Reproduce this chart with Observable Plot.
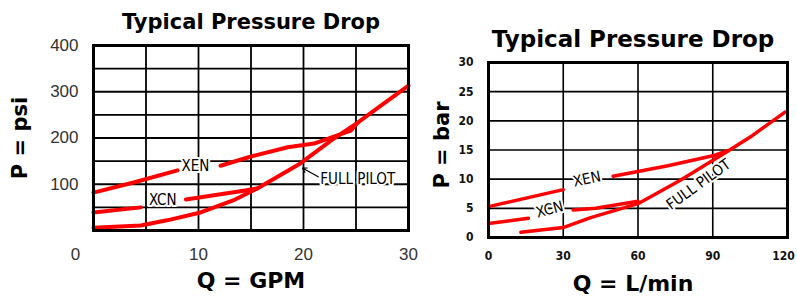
<!DOCTYPE html>
<html><head><meta charset="utf-8">
<script src="https://cdn.jsdelivr.net/npm/d3@7"></script>
<script src="https://cdn.jsdelivr.net/npm/@observablehq/plot@0.6"></script>
<style>
body{margin:0;background:#fff;}
#wrap{position:relative;width:797px;height:296px;overflow:hidden;background:#fff;}
#left{position:absolute;left:0;top:0;}
#right{position:absolute;left:420px;top:0;}
</style></head><body>
<div id="wrap"><div id="left"></div><div id="right"></div></div>
<script>
// ---------- Shared text ----------
const chartTitle = "Typical Pressure Drop";

// ---------- Left chart (US units) ----------
const gpmTicks = [10, 20, 30];
const gpmZeroTick = [0];
const gpmGrid = [5, 10, 15, 20, 25];
const psiTicks = [100, 200, 300, 400];
const psiGrid = [50, 100, 150, 200, 250, 300, 350];

const fullPilotGpm = [0, 4.5, 7, 10.2, 13.3, 15.6, 19.7, 22.9, 25.1, 27.5, 30];
const fullPilotPsi = [6, 11, 22, 39, 65, 91, 145, 199, 232, 272, 313];
const xenGpm = [0, 4, 8, NaN, 12.1, 15, 18.5, 21, 24.5, 25.1];
const xenPsi = [82, 105, 130, NaN, 140, 160, 180, 188, 216, 232];
const xcnGpm = [0, 4.5, NaN, 8.8, 14.3, 15.6];
const xcnPsi = [39, 50, NaN, 67, 86, 91];

const leftValveLabels = ["XEN", "XCN"];
const leftValveLabelGpm = [9.7, 6.6];
const leftValveLabelPsi = [140, 65];
const leftPilotLabel = ["FULL PILOT"];
const leftPilotLabelGpm = [21.6];
const leftPilotLabelPsi = [112];
const leftArrow = [{q1: 21.4, p1: 116, q2: 19.9, p2: 135}];

// ---------- Right chart (metric units) ----------
const lpmTicks = [0, 30, 60, 90];
const lpmLastTick = [120];
const lpmGrid = [30, 60, 90];
const barTicks = [0, 5, 10, 15, 20, 25, 30];
const barGrid = [5, 10, 15, 20, 25];

const fullPilotLpm = [13, 30, 41, 60, 77, 96, 106, 119];
const fullPilotBar = [0.9, 1.7, 3.4, 5.8, 9.8, 14.8, 17.5, 21.5];
const xenLpm = [0, 30, NaN, 50, 72, 90, 96];
const xenBar = [5.3, 8.2, NaN, 10.5, 12.3, 14.0, 14.9];
const xcnLpm = [0, 16, NaN, 34, 43, 60];
const xcnBar = [2.4, 3.3, NaN, 4.7, 5.0, 6.2];

const rightLabels = ["XEN", "XCN", "FULL PILOT"];
const rightLabelLpm = [39.5, 24.5, 84.3];
const rightLabelBar = [10.0, 4.8, 9.1];
const rightLabelRotate = [-12, -15, -36];

const RED = "#ff0000";
const boldFont = "DejaVu Sans, sans-serif";
const narrowFont = "'DejaVu Sans Condensed', 'Liberation Sans Narrow', sans-serif";

function series(xs, ys) { return xs.map((x, i) => ({x, y: ys[i]})); }
function labels(ts, xs, ys, rs) { return ts.map((t, i) => ({t, x: xs[i], y: ys[i], r: rs ? rs[i] : 0})); }

const labelStyle = {x: "x", y: "y", text: "t", fontFamily: narrowFont, fontSize: 15, fill: "black", stroke: "white", strokeWidth: 4};

// ---------- Left plot ----------
const left = Plot.plot({
  width: 420, height: 296,
  marginLeft: 93, marginRight: 12, marginTop: 45, marginBottom: 66,
  x: {domain: [0, 30], label: null},
  y: {domain: [0, 400], label: null},
  style: {fontFamily: "'Liberation Sans', Arial, sans-serif", fontSize: "17px", color: "#333", background: "#fff"},
  marks: [
    Plot.gridX(gpmGrid, {stroke: "black", strokeOpacity: 1, strokeWidth: 1.8}),
    Plot.gridY(psiGrid, {stroke: "black", strokeOpacity: 1, strokeWidth: 1.8}),
    Plot.axisY(psiTicks, {tickSize: 0, tickPadding: 15, label: null, fontSize: 17}),
    Plot.axisX(gpmTicks, {tickSize: 0, tickPadding: 17, label: null, fontSize: 17}),
    Plot.axisX(gpmZeroTick, {tickSize: 0, tickPadding: 17, label: null, fontSize: 17, dx: -18}),
    Plot.text(labels(leftValveLabels, leftValveLabelGpm, leftValveLabelPsi), {...labelStyle, textAnchor: "middle"}),
    Plot.text(labels(leftPilotLabel, leftPilotLabelGpm, leftPilotLabelPsi), {...labelStyle, textAnchor: "start"}),
    Plot.line(series(fullPilotGpm, fullPilotPsi), {x: "x", y: "y", stroke: RED, strokeWidth: 4}),
    Plot.line(series(xenGpm, xenPsi), {x: "x", y: "y", stroke: RED, strokeWidth: 4}),
    Plot.line(series(xcnGpm, xcnPsi), {x: "x", y: "y", stroke: RED, strokeWidth: 4}),
    Plot.arrow(leftArrow, {x1: "q1", y1: "p1", x2: "q2", y2: "p2", stroke: "black", strokeWidth: 1.2, headLength: 6}),
    Plot.frame({stroke: "black", strokeWidth: 3}),
    Plot.text([chartTitle], {frameAnchor: "top", lineAnchor: "middle", dy: -23, fontFamily: boldFont, fontWeight: "bold", fontSize: 21, fill: "black"}),
    Plot.text(["P = psi"], {frameAnchor: "left", textAnchor: "middle", lineAnchor: "middle", dx: -73, rotate: -90, fontFamily: boldFont, fontWeight: "bold", fontSize: 21, fill: "black"}),
    Plot.text(["Q = GPM"], {frameAnchor: "bottom", lineAnchor: "middle", dy: 50, fontFamily: boldFont, fontWeight: "bold", fontSize: 22, fill: "black"})
  ]
});
document.getElementById("left").append(left);

// ---------- Right plot ----------
const right = Plot.plot({
  width: 377, height: 296,
  marginLeft: 68, marginRight: 10, marginTop: 62, marginBottom: 59,
  x: {domain: [0, 120], label: null},
  y: {domain: [0, 30], label: null},
  style: {fontFamily: narrowFont, fontSize: "12px", fontWeight: "bold", color: "#111", background: "#fff"},
  marks: [
    Plot.gridX(lpmGrid, {stroke: "black", strokeOpacity: 1, strokeWidth: 1.6}),
    Plot.gridY(barGrid, {stroke: "black", strokeOpacity: 1, strokeWidth: 1.6}),
    Plot.axisY(barTicks, {tickSize: 0, tickPadding: 15, label: null, fontSize: 12}),
    Plot.axisX(lpmTicks, {tickSize: 0, tickPadding: 14, label: null, fontSize: 12}),
    Plot.axisX(lpmLastTick, {tickSize: 0, tickPadding: 14, label: null, fontSize: 12, dx: -4}),
    Plot.text(labels(rightLabels, rightLabelLpm, rightLabelBar, rightLabelRotate), {...labelStyle, rotate: "r", fontWeight: "normal"}),
    Plot.line(series(fullPilotLpm, fullPilotBar), {x: "x", y: "y", stroke: RED, strokeWidth: 3.5}),
    Plot.line(series(xenLpm, xenBar), {x: "x", y: "y", stroke: RED, strokeWidth: 3.5}),
    Plot.line(series(xcnLpm, xcnBar), {x: "x", y: "y", stroke: RED, strokeWidth: 3.5}),
    Plot.frame({stroke: "black", strokeWidth: 3}),
    Plot.text([chartTitle], {frameAnchor: "top", lineAnchor: "middle", dy: -23, dx: -5, fontFamily: boldFont, fontWeight: "bold", fontSize: 23, fill: "black"}),
    Plot.text(["P = bar"], {frameAnchor: "left", textAnchor: "middle", lineAnchor: "middle", dx: -46, dy: -5, rotate: -90, fontFamily: boldFont, fontWeight: "bold", fontSize: 21, fill: "black"}),
    Plot.text(["Q = L/min"], {frameAnchor: "bottom", lineAnchor: "middle", dy: 46, dx: -5, fontFamily: boldFont, fontWeight: "bold", fontSize: 22, fill: "black"})
  ]
});
document.getElementById("right").append(right);
</script>
</body></html>
